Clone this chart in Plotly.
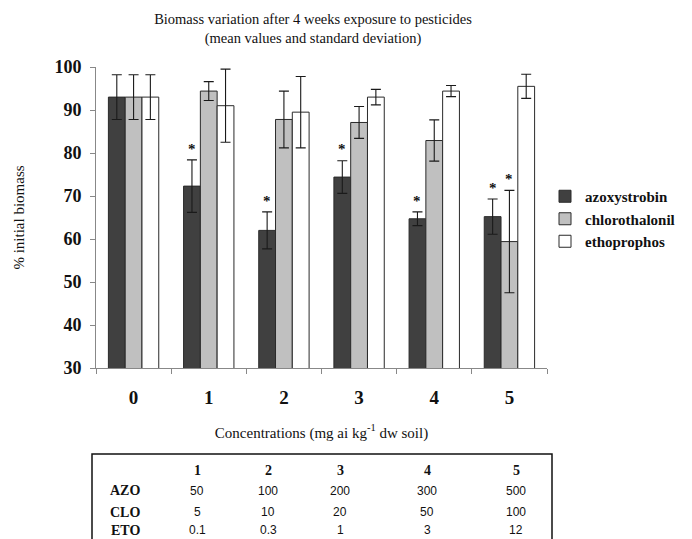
import plotly.graph_objects as go

# ---------------- data ----------------
categories = ["0", "1", "2", "3", "4", "5"]
series_names = ["azoxystrobin", "chlorothalonil", "ethoprophos"]

azo_mean = [93.0, 72.3, 62.0, 74.4, 64.7, 65.2]
azo_sd = [5.2, 6.1, 4.3, 3.8, 1.6, 4.1]
clo_mean = [93.0, 94.4, 87.8, 87.1, 82.9, 59.4]
clo_sd = [5.2, 2.2, 6.6, 3.7, 4.8, 11.9]
eto_mean = [93.0, 91.0, 89.5, 93.0, 94.4, 95.5]
eto_sd = [5.2, 8.5, 8.3, 1.8, 1.3, 2.8]

# significance markers (category) for each series
azo_signif = ["1", "2", "3", "4", "5"]
clo_signif = ["5"]
eto_signif = []

# concentration table
table_cols = ["1", "2", "3", "4", "5"]
table_rows = ["AZO", "CLO", "ETO"]
azo_conc = ["50", "100", "200", "300", "500"]
clo_conc = ["5", "10", "20", "50", "100"]
eto_conc = ["0.1", "0.3", "1", "3", "12"]

# ---------------- layout geometry ----------------
W, H = 692, 539
L, R, T, B = 96, 547, 67, 368   # plot area in pixels
PW, PH = R - L, B - T


def px(x):
    return (x - L) / PW


def py(y):
    return (B - y) / PH


SERIF = "Liberation Serif"
SANS = "Liberation Sans"
colors = ["#404040", "#c0c0c0", "#ffffff"]
means = [azo_mean, clo_mean, eto_mean]
sds = [azo_sd, clo_sd, eto_sd]
signifs = [azo_signif, clo_signif, eto_signif]

fig = go.Figure()
for name, m, s, c in zip(series_names, means, sds, colors):
    fig.add_trace(go.Bar(
        x=categories, y=m, name=name,
        marker=dict(color=c, line=dict(color="#2a2a2a", width=1)),
        error_y=dict(type="data", array=s, visible=True,
                     color="#1a1a1a", thickness=1.1, width=5),
    ))

bargap = 0.33
group_w = PW / len(categories) * (1 - bargap)
bar_w = group_w / 3
annotations = []
for i, (m, s, sig) in enumerate(zip(means, sds, signifs)):
    for cat in sig:
        k = categories.index(cat)
        annotations.append(dict(
            x=cat, xref="x", y=m[k] + s[k] + 0.3, yref="y",
            xshift=(i - 1) * bar_w, text="<b>*</b>", showarrow=False,
            yanchor="bottom", font=dict(family=SERIF, size=15, color="#111"),
        ))

# table text
col_x = [197, 268, 340, 427, 516]
row_y = [491, 512, 530]
label_x = 125
header_y = 470


def cell(x, y, text, font):
    return dict(x=px(x), y=py(y), xref="paper", yref="paper", text=text,
                showarrow=False, xanchor="center", yanchor="middle", font=font)


hdr_font = dict(family=SERIF, size=14, color="#111")
val_font = dict(family=SANS, size=12, color="#111")
for cx, t in zip(col_x, table_cols):
    annotations.append(cell(cx, header_y, "<b>%s</b>" % t, hdr_font))
for ry, lab, vals in zip(row_y, table_rows, [azo_conc, clo_conc, eto_conc]):
    annotations.append(cell(label_x, ry, "<b>%s</b>" % lab, hdr_font))
    for cx, v in zip(col_x, vals):
        annotations.append(cell(cx, ry, v, val_font))

shapes = [dict(type="rect", xref="paper", yref="paper",
               x0=px(92), x1=px(552), y0=py(570), y1=py(454),
               line=dict(color="#111", width=1.5), fillcolor="rgba(0,0,0,0)")]

fig.update_layout(
    width=W, height=H,
    margin=dict(l=L, r=W - R, t=T, b=H - B, autoexpand=False),
    paper_bgcolor="white", plot_bgcolor="white",
    barmode="group", bargap=bargap, bargroupgap=0,
    title=dict(text="Biomass variation after 4 weeks exposure to pesticides<br>(mean values and standard deviation)",
               xref="container", x=313 / W, xanchor="center",
               yref="container", y=1 - 24 / H, yanchor="top",
               font=dict(family=SERIF, size=14.5, color="#111")),
    showlegend=True,
    legend=dict(x=px(545), xanchor="left", y=py(219), yanchor="middle",
                font=dict(family=SERIF, size=15, color="#111", weight="bold"),
                bgcolor="rgba(0,0,0,0)", tracegroupgap=0, traceorder="normal"),
    xaxis=dict(type="category", showline=True, linecolor="#888", linewidth=1,
               ticks="outside", tickson="boundaries", ticklen=5, tickcolor="#888",
               ticklabelstandoff=12,
               tickfont=dict(family=SERIF, size=19, color="#111", weight="bold"),
               title=dict(text="Concentrations (mg ai kg<sup>-1</sup> dw soil)",
                          font=dict(family=SERIF, size=15, color="#111"), standoff=20),
               showgrid=False, fixedrange=True),
    yaxis=dict(range=[30, 100], dtick=10, showline=True, linecolor="#888", linewidth=1,
               ticks="outside", ticklen=5, tickcolor="#888", ticklabelstandoff=5,
               tickfont=dict(family=SERIF, size=18, color="#111", weight="bold"),
               title=dict(text="% initial biomass",
                          font=dict(family=SERIF, size=15, color="#111"), standoff=26),
               showgrid=False, zeroline=False, fixedrange=True),
    annotations=annotations,
    shapes=shapes,
)

fig.write_html("out.html", config={"displayModeBar": False},
               post_script="document.body.style.margin='0';")
